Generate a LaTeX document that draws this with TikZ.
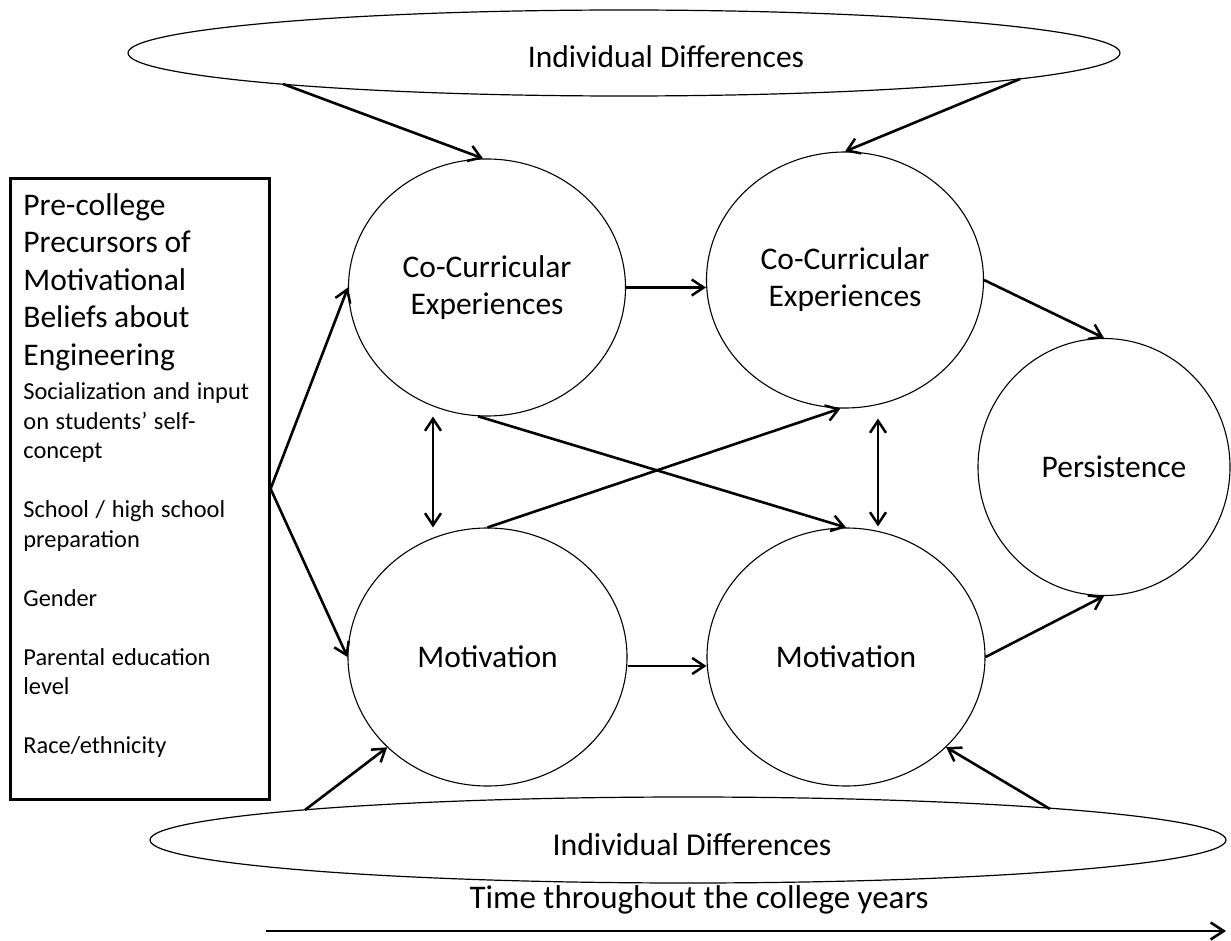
\documentclass[tikz,border=0pt]{standalone}
\usepackage{fontspec}
\setmainfont{Carlito}
\usetikzlibrary{shapes.geometric,arrows.meta}
\begin{document}
\begin{tikzpicture}[x=0.5pt,y=-0.5pt,
  bubble/.style={draw, line width=0.55pt, ellipse, inner sep=0pt, align=center,
    font=\fontsize{15.75}{18.5}\selectfont},
  band/.style={draw, line width=0.6pt, ellipse, inner sep=0pt},
  barb/.tip={Straight Barb[length=6pt,width=8pt,line width=1.25pt]},
  link/.style={line width=1.3pt, -barb},
  twoway/.style={line width=1.3pt, barb-barb},
  label/.style={inner sep=0pt}]
\useasboundingbox (0,0) rectangle (1231,941);

% individual differences, above and below
\node[band, minimum width=496pt, minimum height=43pt] (topdiff) at (624,53) {};
\node[label, font=\fontsize{15.75}{18}\selectfont] (toptext) at (666,57) {Individual Differences};
\node[band, minimum width=538pt, minimum height=43pt] (botdiff) at (688,840) {};
\node[label, font=\fontsize{15.9}{18}\selectfont] (bottext) at (692,845) {Individual Differences};

% points on the ellipses where their arrows leave
\coordinate (topleft) at (283,84);
\coordinate (topright) at (1020,79);
\coordinate (botleft) at (305,810);
\coordinate (botright) at (1050,809);

% pre-college precursors box
\node[draw, line width=1.3pt, rectangle, inner sep=0pt, minimum width=129.5pt,
  minimum height=310.5pt, anchor=north west] (pre) at (9,177) {};
\node[label, anchor=north west, text width=125pt, align=left] (pretext) at (23,193) {%
  {\fontsize{15.75}{18.75}\selectfont Pre-college\\Precursors of\\Motivational\\Beliefs about\\Engineering\par}
  \vspace{2.5pt}
  {\fontsize{12.2}{14.75}\selectfont Socialization and input\\on students’ self-\\concept\\[14.75pt]
  School / high school\\preparation\\[14.75pt]Gender\\[14.75pt]Parental education\\level\\[14.75pt]
  Race/ethnicity\par}};

% constructs
\node[bubble, minimum width=138.5pt, minimum height=128.5pt] (cc1) at (487,287.5) {Co-Curricular\\Experiences};
\node[bubble, minimum width=138.5pt, minimum height=128pt] (cc2) at (845,280) {Co-Curricular\\Experiences};
\node[bubble, minimum width=139.5pt, minimum height=129pt] (mot1) at (487.5,657) {Motivation};
\node[bubble, minimum width=139pt, minimum height=129pt] (mot2) at (846,657) {Motivation};
\node[bubble, minimum width=126pt, minimum height=128.5pt] (pers) at (1104,467) {};
\node[label, font=\fontsize{15.75}{18}\selectfont] (perstext) at (1114,467) {Persistence};

% influences of individual differences
\draw[link] (topleft) -- ([xshift=-2pt]cc1.north);
\draw[link] (topright) -- (cc2.north);
\draw[link] (botleft) -- (mot1.-138);
\draw[link] (botright) -- (mot2.-42);

% precursors to first-year constructs
\draw[link] (pre.east) -- (cc1.west);
\draw[link] (pre.east) -- (mot1.west);

% paths over time
\draw[link] (cc1.east) -- (cc1.east -| cc2.west);
\draw[link] ([yshift=-4.5pt]mot1.east) -- ([yshift=-4.5pt]mot1.east -| mot2.west);
\draw[link] (cc1.-94) -- (mot2.north);
\draw[link] (mot1.north) -- (cc2.-92);
\draw[twoway] ([xshift=-27pt]cc1.south) -- ([xshift=-27.25pt]mot1.north);
\draw[twoway] ([shift={(16.5pt,-5pt)}]cc2.south) -- ([shift={(16pt,0.5pt)}]mot2.north);
\draw[link] (cc2.east) -- (pers.north);
\draw[link] (mot2.east) -- (pers.south);

% time axis
\coordinate (tstart) at (266,931);
\coordinate (tend) at (1226,931);
\draw[line width=1.4pt, -{Straight Barb[length=6.5pt,width=8.5pt,line width=1.3pt]}] (tstart) -- (tend);
\node[label, font=\fontsize{16.5}{19}\selectfont] (timetext) at (699,900) {Time throughout the college years};
\end{tikzpicture}
\end{document}
